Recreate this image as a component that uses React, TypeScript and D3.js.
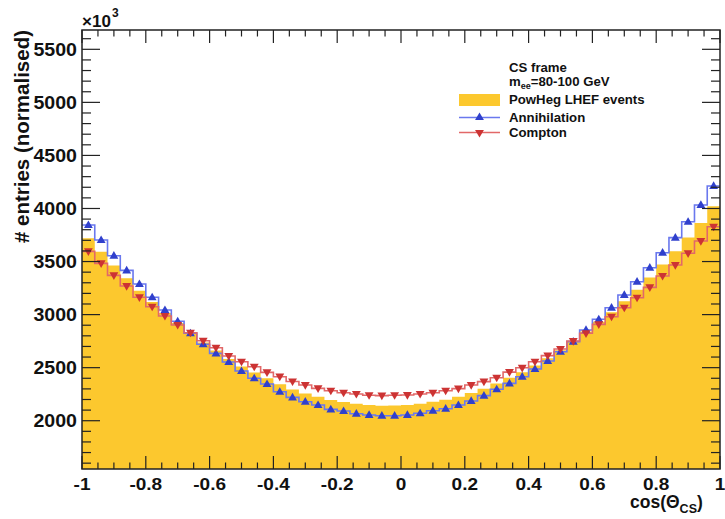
import React from "react";
import * as d3 from "d3";

// bin edges of cos(theta_CS): 50 bins from -1 to 1
const binEdges: number[] = d3.range(51).map((i) => -1 + i * 0.04);

const powhegValues: number[] = [
  3720, 3593, 3462, 3343, 3225, 3118, 3015, 2920, 2826, 2737,
  2661, 2582, 2512, 2455, 2401, 2344, 2295, 2257, 2226, 2195,
  2177, 2159, 2147, 2141, 2143, 2148, 2161, 2179, 2198, 2225,
  2261, 2302, 2350, 2405, 2457, 2521, 2588, 2663, 2748, 2840,
  2932, 3022, 3125, 3234, 3350, 3473, 3596, 3726, 3863, 4020,
];

const annihilationValues: number[] = [
  3844, 3703, 3555, 3417, 3288, 3163, 3043, 2937, 2824, 2720,
  2635, 2553, 2468, 2400, 2346, 2273, 2220, 2179, 2148, 2107,
  2091, 2066, 2054, 2047, 2047, 2054, 2070, 2094, 2113, 2148,
  2186, 2236, 2296, 2352, 2415, 2487, 2563, 2650, 2745, 2855,
  2956, 3065, 3185, 3310, 3442, 3583, 3725, 3875, 4033, 4212,
];

const comptonValues: number[] = [
  3596, 3483, 3370, 3269, 3163, 3074, 2987, 2902, 2829, 2754,
  2688, 2610, 2556, 2509, 2456, 2415, 2370, 2336, 2305, 2283,
  2264, 2252, 2240, 2236, 2240, 2242, 2252, 2264, 2283, 2302,
  2336, 2368, 2405, 2458, 2499, 2556, 2613, 2676, 2751, 2824,
  2908, 2980, 3065, 3159, 3257, 3364, 3467, 3578, 3693, 3828,
];

const xMajorTicks: number[] = [-1, -0.8, -0.6, -0.4, -0.2, 0, 0.2, 0.4, 0.6, 0.8, 1];
const xTickLabels: string[] = ["-1", "-0.8", "-0.6", "-0.4", "-0.2", "0", "0.2", "0.4", "0.6", "0.8", "1"];
const yMajorTicks: number[] = [2000, 2500, 3000, 3500, 4000, 4500, 5000, 5500];
const yTickLabels: string[] = ["2000", "2500", "3000", "3500", "4000", "4500", "5000", "5500"];

const W = 725;
const H = 519;
const L = 82;
const R = 720;
const T = 30;
const B = 469;

const FILL = "#fcc82e";
const BLUE_LINE = "#6a78ee";
const BLUE_MK = "#3040cc";
const RED_LINE = "#e26868";
const RED_MK = "#cc3333";
const FONT = "Liberation Sans, Arial, Helvetica, sans-serif";

export default function App() {
  const x = d3.scaleLinear().domain([-1, 1]).range([L, R]);
  const y = d3.scaleLinear().domain([1545, 5682]).range([B, T]);

  const stepPts = (vals: number[]) =>
    binEdges.map((e, i) => [e, vals[Math.min(i, vals.length - 1)]] as [number, number]);

  const line = d3
    .line<[number, number]>()
    .x((d) => x(d[0]))
    .y((d) => y(d[1]))
    .curve(d3.curveStepAfter);
  const area = d3
    .area<[number, number]>()
    .x((d) => x(d[0]))
    .y0(B)
    .y1((d) => y(d[1]))
    .curve(d3.curveStepAfter);

  const centers = binEdges.slice(0, 50).map((e) => e + 0.02);
  const tri = d3.symbol(d3.symbolTriangle, 34)() as string;

  const xMinor = d3.range(41).map((i) => -1 + i * 0.05);
  const yMinor = d3.range(16, 57).map((i) => i * 100);

  return (
    <div style={{ position: "absolute", left: 0, top: 0 }}>
      <svg width={W} height={H} viewBox={`0 0 ${W} ${H}`} style={{ display: "block", background: "#fff" }}>
        {/* PowHeg filled histogram */}
        <path d={area(stepPts(powhegValues)) as string} fill={FILL} stroke="none" />

        {/* Annihilation */}
        <path d={line(stepPts(annihilationValues)) as string} fill="none" stroke={BLUE_LINE} strokeWidth={1.6} />
        {centers.map((c, i) => (
          <path key={"a" + i} d={tri} transform={`translate(${x(c)},${y(annihilationValues[i]) + 0.5})`} fill={BLUE_MK} />
        ))}

        {/* Compton */}
        <path d={line(stepPts(comptonValues)) as string} fill="none" stroke={RED_LINE} strokeWidth={1.6} />
        {centers.map((c, i) => (
          <path key={"c" + i} d={tri} transform={`translate(${x(c)},${y(comptonValues[i]) - 0.5}) rotate(180)`} fill={RED_MK} />
        ))}

        {/* frame */}
        <rect x={L} y={T} width={R - L} height={B - T} fill="none" stroke="#222" strokeWidth={1.5} />

        {/* x ticks bottom and top */}
        {xMinor.map((v, i) => {
          const major = i % 4 === 0;
          const len = major ? 13 : 6.5;
          return (
            <g key={"xt" + i} stroke="#222" strokeWidth={1.2}>
              <line x1={x(v)} x2={x(v)} y1={B} y2={B - len} />
              <line x1={x(v)} x2={x(v)} y1={T} y2={T + len} />
            </g>
          );
        })}
        {/* y ticks left and right */}
        {yMinor.map((v, i) => {
          const major = v % 500 === 0;
          const len = major ? 18 : 9;
          return (
            <g key={"yt" + i} stroke="#222" strokeWidth={1.2}>
              <line x1={L} x2={L + len} y1={y(v)} y2={y(v)} />
              <line x1={R} x2={R - len} y1={y(v)} y2={y(v)} />
            </g>
          );
        })}

        {/* x tick labels */}
        {xMajorTicks.map((v, i) => (
          <text
            key={"xl" + i}
            transform={`translate(${x(v)},${490}) scale(1.12,1)`}
            textAnchor="middle"
            fontFamily={FONT}
            fontWeight="bold"
            fontSize={17}
            fill="#111"
          >
            {xTickLabels[i]}
          </text>
        ))}
        {/* y tick labels */}
        {yMajorTicks.map((v, i) => (
          <text
            key={"yl" + i}
            transform={`translate(${77},${y(v) + 6.3}) scale(1.12,1)`}
            textAnchor="end"
            fontFamily={FONT}
            fontWeight="bold"
            fontSize={17.5}
            fill="#111"
          >
            {yTickLabels[i]}
          </text>
        ))}

        {/* x10^3 */}
        <text x={82} y={27} fontFamily={FONT} fontWeight="bold" fontSize={17} fill="#111">
          ×10
        </text>
        <text x={112} y={17} fontFamily={FONT} fontWeight="bold" fontSize={12} fill="#111">
          3
        </text>

        {/* y title */}
        <text
          transform={`translate(29,${T}) rotate(-90)`}
          textAnchor="end"
          fontFamily={FONT}
          fontWeight="bold"
          fontSize={20.5}
          fill="#111"
        >
          # entries (normalised)
        </text>

        {/* x title */}
        <text x={630} y={508} textAnchor="start" fontFamily={FONT} fontWeight="bold" fontSize={17.5} fill="#111">
          cos(Θ<tspan fontSize={12.5} dy={5}>CS</tspan>
          <tspan dy={-5}>)</tspan>
        </text>

        {/* legend */}
        <g fontFamily={FONT} fontWeight="bold" fontSize={13.2} fill="#111">
          <text x={509} y={72}>CS frame</text>
          <text x={509} y={86}>
            m<tspan fontSize={9} dy={2.5}>ee</tspan>
            <tspan dy={-2.5}>=80-100 GeV</tspan>
          </text>
          <rect x={459} y={94} width={41} height={12} fill={FILL} />
          <text x={509} y={103.5}>PowHeg LHEF events</text>
          <line x1={459} x2={500} y1={117.5} y2={117.5} stroke={BLUE_LINE} strokeWidth={1.6} />
          <path d={tri} transform="translate(479.5,117.5)" fill={BLUE_MK} />
          <text x={509} y={121.5}>Annihilation</text>
          <line x1={459} x2={500} y1={132.5} y2={132.5} stroke={RED_LINE} strokeWidth={1.6} />
          <path d={tri} transform="translate(479.5,132.5) rotate(180)" fill={RED_MK} />
          <text x={509} y={137}>Compton</text>
        </g>
      </svg>
    </div>
  );
}
